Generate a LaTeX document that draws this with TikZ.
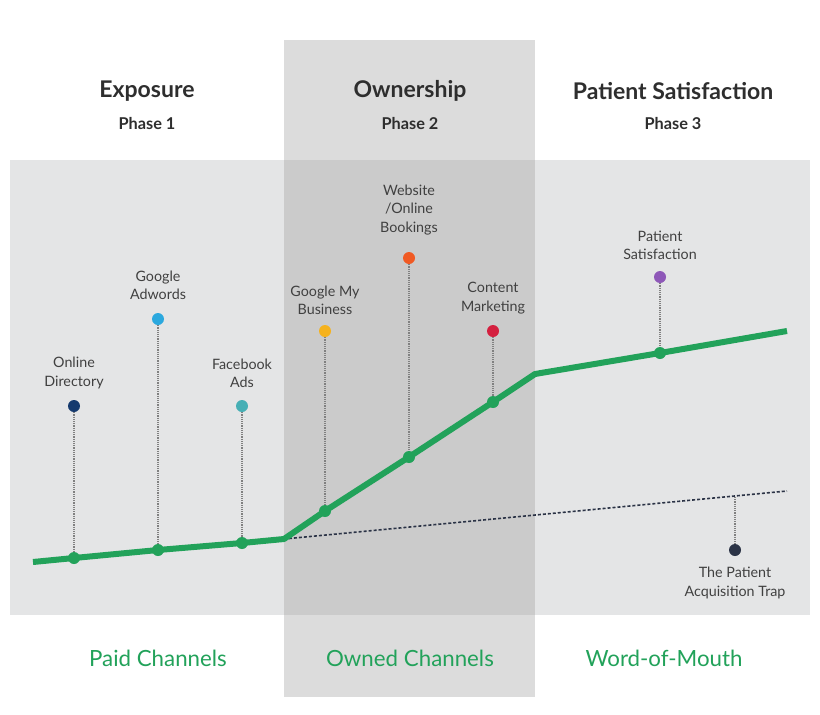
\documentclass[tikz,border=0pt]{standalone}
\usepackage{fontspec}
\setmainfont{Lato}
\begin{document}
\begin{tikzpicture}[x=1pt,y=-1pt,
 lbl/.style={align=center,font=\fontsize{14.3}{18.3}\selectfont,text=black!75},
 head/.style={font=\fontsize{23}{26}\selectfont\bfseries,text=black!82},
 ph/.style={font=\fontsize{16.3}{18}\selectfont\bfseries,text=black!82},
 chan/.style={font=\fontsize{22.3}{24}\selectfont,text=grn},
 stem/.style={densely dotted,line width=1.2pt,draw=black!50},
 dot/.style={circle,inner sep=0pt,minimum size=12pt},
 gdot/.style={circle,fill=grn,inner sep=0pt,minimum size=12pt}]
\definecolor{grn}{HTML}{22A25A}
\definecolor{panel}{HTML}{E4E5E6}
\definecolor{midout}{HTML}{DCDCDC}
\definecolor{midin}{HTML}{CBCBCB}
\definecolor{cnavy}{HTML}{153A6E}
\definecolor{cblue}{HTML}{2BA8DE}
\definecolor{cteal}{HTML}{46AFB5}
\definecolor{cyel}{HTML}{F5B21E}
\definecolor{corg}{HTML}{F05A24}
\definecolor{cred}{HTML}{D4203F}
\definecolor{cpur}{HTML}{8E58B8}
\definecolor{cdark}{HTML}{2B3346}
\useasboundingbox (0,0) rectangle (820,715);
\fill[white] (0,0) rectangle (820,715);
\fill[panel] (10,160) rectangle (810,615);
\fill[midout] (284,40) rectangle (535,697);
\fill[midin] (284,160) rectangle (535,615);
% headers
\node[head] (h1) at (147,91) {Exposure};
\node[ph] (p1) at (147,124) {Phase 1};
\node[head] (h2) at (410,91) {Ownership};
\node[ph] (p2) at (410,124) {Phase 2};
\node[head] (h3) at (673,91) {Patient Satisfaction};
\node[ph] (p3) at (673,124) {Phase 3};
\node[chan] (c1) at (158,658) {Paid Channels};
\node[chan] (c2) at (410,658) {Owned Channels};
\node[chan] (c3) at (664,658) {Word-of-Mouth};
% curve points
\coordinate (s) at (33,562);
\coordinate (g1) at (74,558);
\coordinate (g2) at (158,550);
\coordinate (g3) at (242,543);
\coordinate (k) at (284,539);
\coordinate (g4) at (325,511);
\coordinate (g5) at (409,457);
\coordinate (g6) at (493,402);
\coordinate (k2) at (535,374);
\coordinate (g7) at (660,353);
\coordinate (e) at (787,331);
\coordinate (de) at (787,491);
\coordinate (tp) at (735,497);
% top dots
\node[dot,fill=cnavy] (d1) at (74,406) {};
\node[dot,fill=cblue] (d2) at (158,319) {};
\node[dot,fill=cteal] (d3) at (242,406) {};
\node[dot,fill=cyel] (d4) at (325,331) {};
\node[dot,fill=corg] (d5) at (409,258) {};
\node[dot,fill=cred] (d6) at (493,331) {};
\node[dot,fill=cpur] (d7) at (660,277) {};
\node[dot,fill=cdark] (d8) at (735,550) {};
% stems
\foreach \a/\b in {d1/g1,d2/g2,d3/g3,d4/g4,d5/g5,d6/g6,d7/g7}
  \draw[stem] (\a) -- (\b);
\draw[stem] (tp) -- (d8);
% lines
\draw[densely dashed,line width=1.6pt,draw=cdark] (k) -- (de);
\draw[grn,line width=6pt,line join=round] (s) -- (g1) -- (g2) -- (g3) -- (k) -- (g4) -- (g5) -- (g6) -- (k2) -- (g7) -- (e);
\foreach \g in {g1,g2,g3,g4,g5,g6,g7}
  \node[gdot] at (\g) {};
% labels
\node[lbl] (l1) at (74,373) {Online\\Directory};
\node[lbl] (l2) at (158,285) {Google\\Adwords};
\node[lbl] (l3) at (242,373) {Facebook\\Ads};
\node[lbl] (l4) at (325,300) {Google My\\Business};
\node[lbl] (l5) at (409,210) {Website\\/Online\\Bookings};
\node[lbl] (l6) at (493,298) {Content\\Marketing};
\node[lbl] (l7) at (660,245) {Patient\\Satisfaction};
\node[lbl] (l8) at (735,583) {The Patient\\Acquisition Trap};
\end{tikzpicture}
\end{document}
